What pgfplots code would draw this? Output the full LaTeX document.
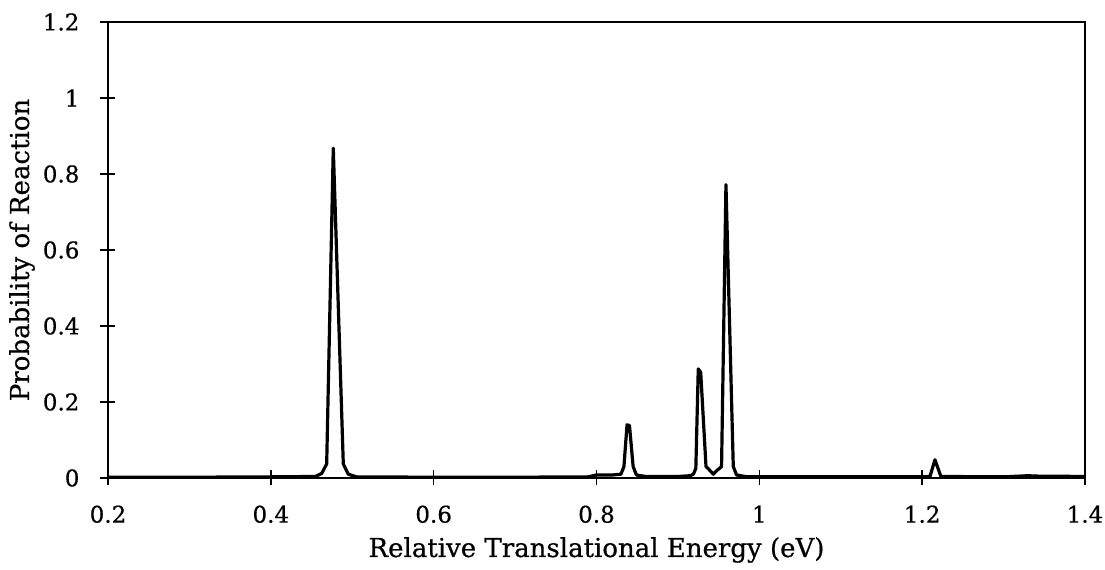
\documentclass[border=0pt]{standalone}
\usepackage{fontspec}
\setmainfont{DejaVu Serif}[FakeBold=0.6]
\usepackage{pgfplots}
\pgfplotsset{compat=1.18}
\begin{document}
\begin{tikzpicture}
\begin{axis}[
  name=ax,
  scale only axis,
  width=488.5pt, height=228pt,
  xmin=0.2, xmax=1.4, ymin=0, ymax=1.2,
  xtick={0.2,0.4,0.6,0.8,1,1.2,1.4},
  ytick={0,0.2,0.4,0.6,0.8,1,1.2},
  xticklabels={0.2,0.4,0.6,0.8,1,1.2,1.4},
  yticklabels={0,0.2,0.4,0.6,0.8,1,1.2},
  xtick pos=bottom, ytick pos=left,
  tick align=center,
  major tick length=7.5pt,
  tick style={line width=0.7pt, black},
  axis line style={line width=1.3pt},
  every tick label/.append style={font=\fontsize{11.5}{14}\selectfont},
  xticklabel style={yshift=-6.5pt},
  yticklabel style={xshift=-7pt},
  xlabel={Relative Translational Energy (eV)},
  ylabel={Probability of Reaction},
  every axis x label/.style={at={(axis description cs:0.5,0)}, anchor=center, yshift=-36pt, font=\fontsize{13}{15}\selectfont},
  every axis y label/.style={at={(axis description cs:0,0.5)}, xshift=-43pt, anchor=center, rotate=90, font=\fontsize{13}{15}\selectfont},
]
\addplot[line width=1.6pt, black, line join=round] coordinates {
(0.200,0.002) (0.300,0.002) (0.400,0.003) (0.455,0.004)
(0.4625,0.012) (0.4686,0.037) (0.4767,0.868) (0.4890,0.037)
(0.4951,0.010) (0.505,0.003) (0.600,0.002) (0.700,0.002)
(0.790,0.003) (0.800,0.008) (0.820,0.008) (0.830,0.010)
(0.8337,0.030) (0.8375,0.140) (0.8405,0.138) (0.8450,0.030)
(0.849,0.008) (0.860,0.004) (0.900,0.004) (0.915,0.006)
(0.919,0.010) (0.922,0.025) (0.9250,0.287) (0.9280,0.278)
(0.9345,0.030) (0.9375,0.024) (0.9435,0.010) (0.9480,0.020)
(0.9508,0.025) (0.9536,0.030) (0.9590,0.772) (0.9680,0.030)
(0.972,0.008) (0.985,0.003) (1.100,0.003) (1.200,0.003)
(1.2096,0.004) (1.2157,0.048) (1.2230,0.004) (1.300,0.003)
(1.330,0.006) (1.340,0.005) (1.400,0.004)
};
\end{axis}
\pgfresetboundingbox
\path[use as bounding box] ([shift={(-54pt,-46pt)}]ax.south west) rectangle ([shift={(10pt,11pt)}]ax.north east);
\end{tikzpicture}
\end{document}
